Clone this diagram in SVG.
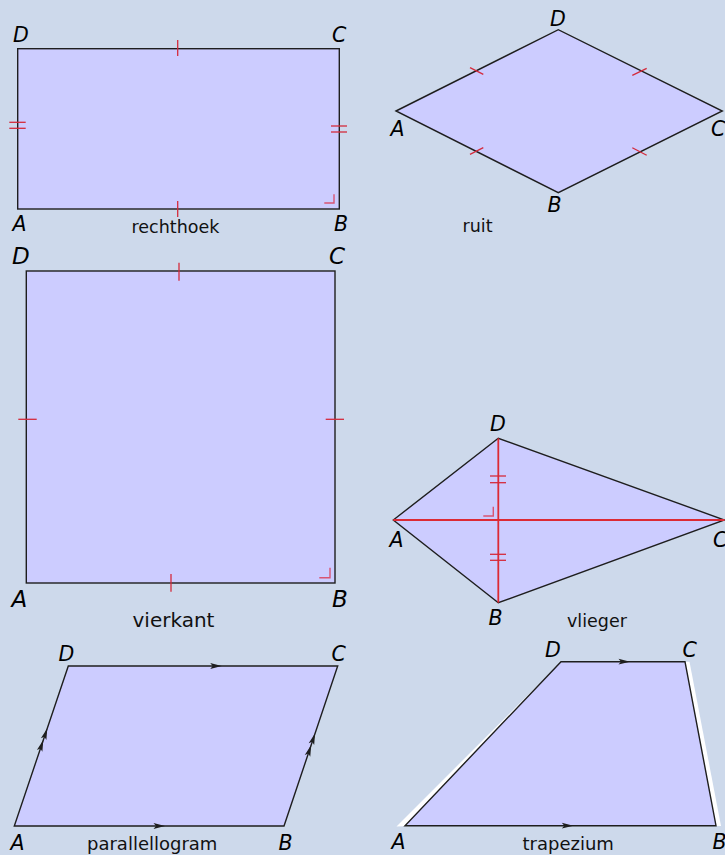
<svg xmlns="http://www.w3.org/2000/svg" xmlns:xlink="http://www.w3.org/1999/xlink" width="725" height="855" viewBox="0 0 725 855">
<style>
.shape{fill:#ccccff;stroke:#1e1e1e;stroke-width:1.4;stroke-linejoin:miter}
.tick{stroke:#d42a3c;stroke-width:1.3;fill:none}
.ra{stroke:#d9405a;stroke-width:1.4;fill:none;opacity:0.85}
.diag{stroke:#dc2a35;stroke-width:1.8;fill:none}
.v{font-family:"DejaVu Sans","Liberation Sans",sans-serif;font-style:oblique;fill:#000;font-size:20.5px}
.n{font-family:"DejaVu Sans","Liberation Sans",sans-serif;fill:#111;font-size:17.5px}
.wh{fill:#ffffff;stroke:none}
</style>
<defs>
<path id="ah" d="M0,0 L-11.5,-2.9 L-9,0 L-11.5,2.9 Z" fill="#1e1e1e"/>
</defs>
<rect x="0" y="0" width="725" height="855" fill="#cdd9eb"/>

<g id="rechthoek">
<rect class="shape" x="17.7" y="48.7" width="321.6" height="160.3"/>
<line class="tick" x1="177.7" y1="40" x2="177.7" y2="56"/>
<line class="tick" x1="177.7" y1="201" x2="177.7" y2="217"/>
<line class="tick" x1="9.3" y1="122.3" x2="25.7" y2="122.3"/>
<line class="tick" x1="9.3" y1="128.3" x2="25.7" y2="128.3"/>
<line class="tick" x1="331" y1="126" x2="347" y2="126"/>
<line class="tick" x1="331" y1="132" x2="347" y2="132"/>
<polyline class="ra" points="324.3,203 334,203 334,194.3"/>
<text class="v" x="13" y="41.7">D</text>
<text class="v" x="332" y="41.7">C</text>
<text class="v" x="12.5" y="231">A</text>
<text class="v" x="334" y="231">B</text>
<text class="n" x="131.5" y="233.3">rechthoek</text>
</g>

<g id="ruit">
<polygon class="shape" points="396,111 558.3,29.7 722.3,111 558.3,192.7"/>
<line class="tick" x1="470" y1="67.7" x2="483.3" y2="74.3"/>
<line class="tick" x1="632.3" y1="75.3" x2="646.7" y2="68.3"/>
<line class="tick" x1="470" y1="154.3" x2="483.3" y2="147.7"/>
<line class="tick" x1="632.3" y1="147.7" x2="646.7" y2="155.3"/>
<text class="v" x="550" y="26">D</text>
<text class="v" x="390.5" y="136">A</text>
<text class="v" x="711" y="136">C</text>
<text class="v" x="547.5" y="212">B</text>
<text class="n" x="462.5" y="231.5">ruit</text>
</g>

<g id="vierkant">
<rect class="shape" x="26.3" y="271" width="308.7" height="312"/>
<line class="tick" x1="179" y1="262.7" x2="179" y2="280.7"/>
<line class="tick" x1="171" y1="574" x2="171" y2="591.7"/>
<line class="tick" x1="18.3" y1="419.3" x2="36.7" y2="419.3"/>
<line class="tick" x1="325.7" y1="419.3" x2="344" y2="419.3"/>
<polyline class="ra" points="319.3,577.7 330,577.7 330,567.7"/>
<text class="v" x="12" y="264" style="font-size:23px">D</text>
<text class="v" x="329" y="264" style="font-size:23px">C</text>
<text class="v" x="11.5" y="606.7" style="font-size:23px">A</text>
<text class="v" x="332" y="606.7" style="font-size:23px">B</text>
<text class="n" x="132.5" y="626.7" style="font-size:20px">vierkant</text>
</g>

<g id="vlieger">
<polygon class="shape" points="393.3,520 498.3,438.3 724.5,520 498.3,602.7"/>
<line class="diag" x1="393.3" y1="520" x2="724.5" y2="520"/>
<line class="diag" x1="498.3" y1="438.3" x2="498.3" y2="602.7"/>
<line class="tick" x1="490" y1="476" x2="506" y2="476"/>
<line class="tick" x1="490" y1="482.7" x2="506" y2="482.7"/>
<line class="tick" x1="490" y1="554.3" x2="506" y2="554.3"/>
<line class="tick" x1="490" y1="560.3" x2="506" y2="560.3"/>
<polyline class="ra" points="483.3,516 493.3,516 493.3,506.7"/>
<text class="v" x="490" y="430.7">D</text>
<text class="v" x="389.5" y="547.3">A</text>
<text class="v" x="713" y="547.3">C</text>
<text class="v" x="488.5" y="625">B</text>
<text class="n" x="567" y="627.3">vlieger</text>
</g>

<g id="parallellogram">
<polygon class="shape" points="14.3,826 284,826 337.7,666 68.3,666"/>
<use xlink:href="#ah" href="#ah" transform="translate(221.7,666)"/>
<use xlink:href="#ah" href="#ah" transform="translate(165,826)"/>
<use xlink:href="#ah" href="#ah" transform="translate(47.3,728.3) rotate(-71.35)"/>
<use xlink:href="#ah" href="#ah" transform="translate(43.3,740) rotate(-71.35)"/>
<use xlink:href="#ah" href="#ah" transform="translate(315.1,733.3) rotate(-71.35)"/>
<use xlink:href="#ah" href="#ah" transform="translate(311.2,745) rotate(-71.35)"/>
<text class="v" x="58.5" y="661">D</text>
<text class="v" x="331.5" y="661">C</text>
<text class="v" x="10.5" y="850">A</text>
<text class="v" x="278.5" y="850">B</text>
<text class="n" x="87" y="850" style="font-size:18px">parallellogram</text>
</g>

<g id="trapezium">
<polygon class="wh" points="396.5,826.5 410,826 549,674"/>
<polygon class="wh" points="685,661.7 689.5,661.7 721,826 716,826"/>
<polygon class="shape" points="405,825.7 716,825.7 685,661.7 561,661.7"/>
<use xlink:href="#ah" href="#ah" transform="translate(630,661.7)"/>
<use xlink:href="#ah" href="#ah" transform="translate(573.3,825.7)"/>
<text class="v" x="545" y="656.7">D</text>
<text class="v" x="682.5" y="656.7">C</text>
<text class="v" x="391.5" y="849.3">A</text>
<text class="v" x="712.5" y="849.3">B</text>
<text class="n" x="522.5" y="850" style="font-size:18px">trapezium</text>
</g>

<g id="connectors"></g>
</svg>
